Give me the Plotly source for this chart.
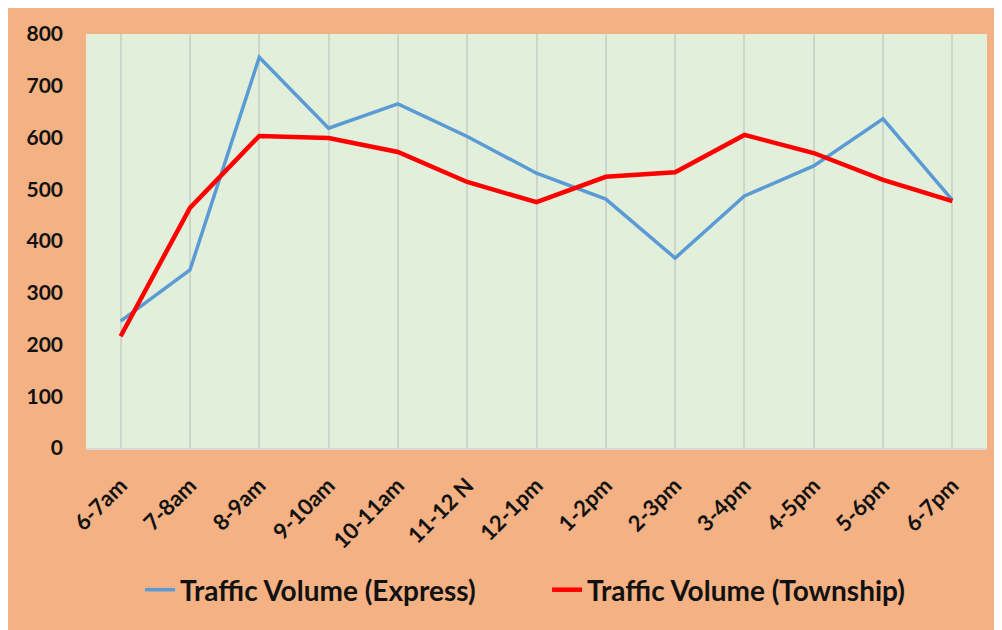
import plotly.graph_objects as go

categories = ["6-7am", "7-8am", "8-9am", "9-10am", "10-11am", "11-12 N", "12-1pm",
              "1-2pm", "2-3pm", "3-4pm", "4-5pm", "5-6pm", "6-7pm"]
express = [245, 344, 755, 618, 665, 602, 531, 481, 367, 487, 545, 636, 479]
township = [216, 464, 603, 599, 572, 514, 475, 524, 533, 605, 570, 518, 477]
y_ticks = [0, 100, 200, 300, 400, 500, 600, 700, 800]

FONT = "Lato"
ORANGE = "#F4B183"
GREEN = "#E2EFDA"

fig = go.Figure()
fig.add_trace(go.Scatter(x=categories, y=express, mode="lines",
                         name="Traffic Volume (Express)",
                         line=dict(color="#5B9BD5", width=3.5)))
fig.add_trace(go.Scatter(x=categories, y=township, mode="lines",
                         name="Traffic Volume (Township)",
                         line=dict(color="#FF0000", width=4.5)))

fig.update_layout(
    width=1002, height=630,
    margin=dict(l=78, r=23, t=26, b=190),
    paper_bgcolor=ORANGE, plot_bgcolor=GREEN,
    font=dict(family=FONT, color="#111111"),
    showlegend=True,
    legend=dict(orientation="h", x=0.06, xanchor="left", y=-0.343, yanchor="middle",
                font=dict(family=FONT, size=28, color="#111111", weight="bold"),
                bgcolor="rgba(0,0,0,0)", entrywidth=362, entrywidthmode="pixels"),
    xaxis=dict(type="category", range=[-0.5, 12.5], showgrid=True,
               gridcolor="#CDD6C8", gridwidth=2, tickangle=-45,
               tickfont=dict(family=FONT, size=22, color="#111111", weight="bold"),
               showline=True, linecolor="#D9D9D9", linewidth=2, ticks="",
               ticklabelstandoff=14, zeroline=False, fixedrange=True),
    yaxis=dict(range=[0, 800], tickvals=y_ticks, showgrid=False, zeroline=False,
               showline=False, ticks="", ticklabelstandoff=22,
               tickfont=dict(family=FONT, size=21, color="#111111", weight="bold"),
               fixedrange=True),
)

fig.write_html("out.html")
